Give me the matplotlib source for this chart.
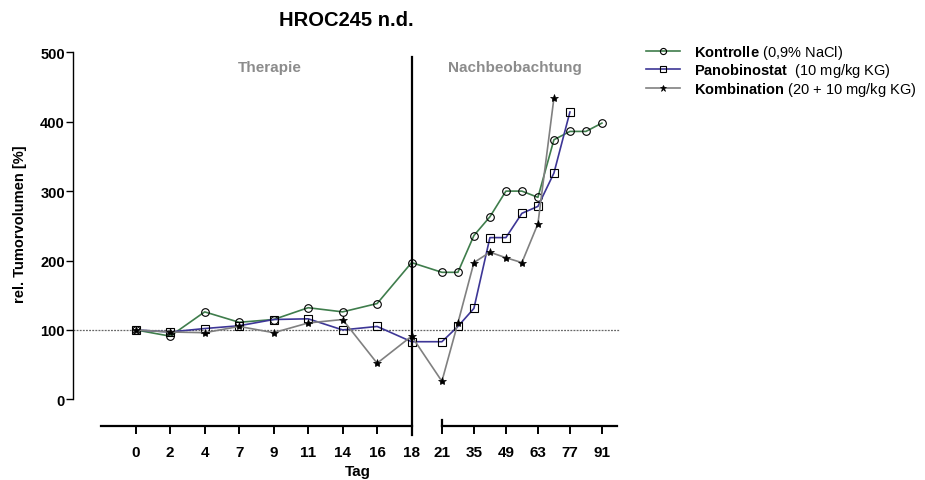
import numpy as np
import matplotlib.pyplot as plt

plt.rcParams['font.family'] = ['Liberation Sans', 'DejaVu Sans']
plt.rcParams['mathtext.fontset'] = 'custom'
plt.rcParams['mathtext.bf'] = 'Liberation Sans:bold'
plt.rcParams['mathtext.rm'] = 'Liberation Sans'

# Messtage (Therapie bis Tag 18, danach Nachbeobachtung)
days = [0, 2, 4, 7, 9, 11, 14, 16, 18, 21, 28, 35, 42, 49, 56, 63, 70, 77, 84, 91]
kontrolle = [100, 91, 126, 111, 115, 132, 126, 138, 197, 183, 183, 236, 263,
             300, 300, 291, 374, 386, 386, 398]
panobinostat = [100, 97, 102, 106, 115, 116, 100, 105, 83, 83, 105, 131, 233,
                233, 268, 278, 326, 414]
kombination = [100, 97, 96, 105, 96, 110, 115, 52, 91, 26, 110, 197, 212,
               204, 197, 253, 434]
tick_days = [0, 2, 4, 7, 9, 11, 14, 16, 18, 21, 35, 49, 63, 77, 91]
therapy_days = days[:9]
split_day = 18

labels = [r"$\bf{Kontrolle}$ (0,9% NaCl)",
          r"$\bf{Panobinostat}$  (10 mg/kg KG)",
          r"$\bf{Kombination}$ (20 + 10 mg/kg KG)"]
colors = ['#3f7d4c', '#3d3696', '#808080']
markers = ['o', 's', '*']


def day_pos(d):
    # Therapiephase kategorial, Nachbeobachtung linear in Wochen
    if d in therapy_days:
        return therapy_days.index(d)
    return len(therapy_days) - 1 + 0.878 + (d - 21) / 7 * 0.464


fig = plt.figure(figsize=(9.25, 4.81), dpi=100)
ax = fig.add_axes([0.0792, 0.1129, 0.591, 0.7763])

series = [kontrolle, panobinostat, kombination]
for vals, c, m, lab in zip(series, colors, markers, labels):
    x = [day_pos(d) for d in days[:len(vals)]]
    if m == '*':
        ax.plot(x, vals, color=c, lw=1.2, marker=m, ms=6, mfc='black',
                mec='black', mew=0.5, label=lab, zorder=3)
    else:
        ax.plot(x, vals, color=c, lw=1.2, marker=m, ms=5.5, mfc='none',
                mec='black', mew=0.8, label=lab, zorder=3)

ax.set_xlim(-1.81, 14.04)
ax.set_ylim(-38, 500)

# 100%-Referenzlinie
ax.axhline(100, color='#666666', lw=0.9, ls=(0, (1.5, 1)), zorder=1)

# Trennlinie Therapie / Nachbeobachtung
sp = day_pos(split_day)
ax.plot([sp, sp], [-52, 493], color='black', lw=1.6, clip_on=False, zorder=4)

# Achsen
for s in ['top', 'right']:
    ax.spines[s].set_visible(False)
ax.spines['left'].set_bounds(0, 500)
ax.spines['bottom'].set_bounds(-1.006, sp)
ax.spines['left'].set_linewidth(1.0)
ax.spines['bottom'].set_linewidth(1.6)
start_r = day_pos(21)
ax.plot([start_r, 13.95], [-38, -38], color='black', lw=1.6,
        clip_on=False, zorder=4)
ax.plot([start_r, start_r], [-30, -38], color='black', lw=1.6,
        clip_on=False, zorder=4)

ax.set_yticks([0, 100, 200, 300, 400, 500])
ax.set_xticks([day_pos(d) for d in tick_days])
ax.set_xticklabels([str(d) for d in tick_days])
ax.tick_params(axis='x', direction='out', length=6, width=1.4, pad=8,
               labelsize=11)
ax.tick_params(axis='y', direction='out', length=5, width=1.0, pad=1,
               labelsize=10.5)
for t in ax.get_xticklabels() + ax.get_yticklabels():
    t.set_fontweight('bold')

ax.text(3.89, 479, 'Therapie', color='#8c8c8c', fontsize=11,
        fontweight='bold', ha='center', va='center')
ax.text(11.0, 479, 'Nachbeobachtung', color='#8c8c8c', fontsize=11,
        fontweight='bold', ha='center', va='center')

fig.text(346 / 925, 1 - 20 / 481, 'HROC245 n.d.', fontsize=14.5,
         fontweight='bold', ha='center', va='center')
fig.text(358 / 925, 1 - 472 / 481, 'Tag', fontsize=11,
         fontweight='bold', ha='center', va='center')
fig.text(20 / 925, 1 - 224 / 481, 'rel. Tumorvolumen [%]', fontsize=10.5,
         fontweight='bold', ha='center', va='center', rotation=90)

fig.legend(loc='upper left', bbox_to_anchor=(633 / 925, 1 - 31 / 481),
           frameon=False, fontsize=10.5, handlelength=2.3, labelspacing=0.02,
           handletextpad=1.0, markerscale=0.8)

fig.savefig('out.png', dpi=100)
